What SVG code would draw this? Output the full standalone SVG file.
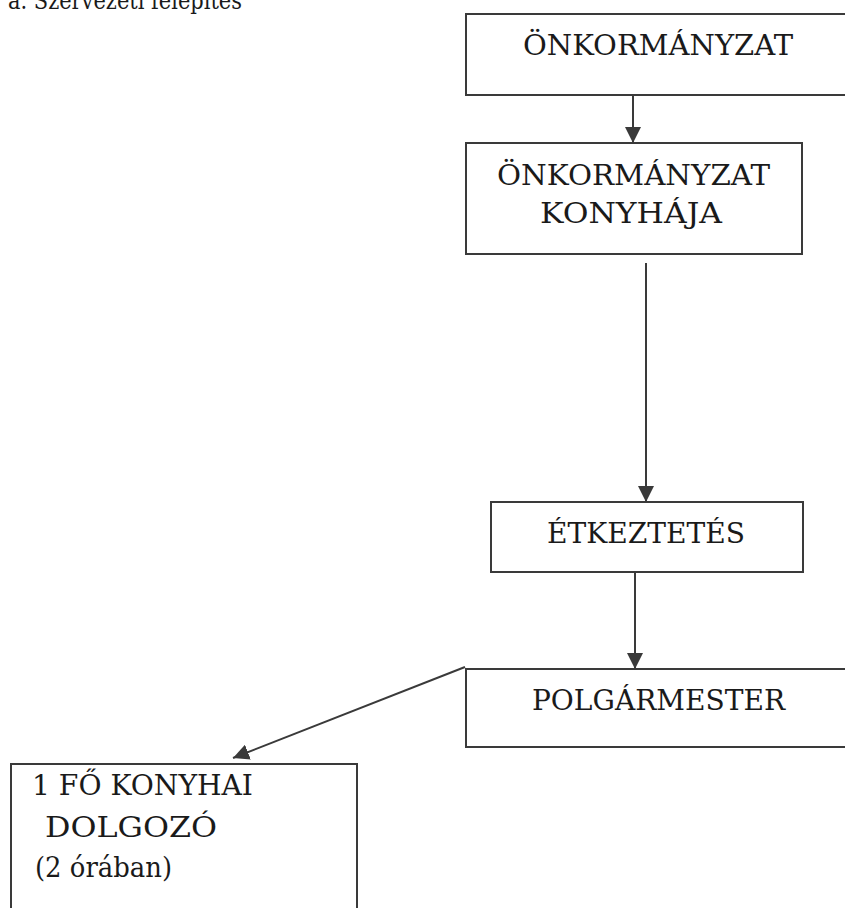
<svg xmlns="http://www.w3.org/2000/svg" width="845" height="908" viewBox="0 0 845 908">
<style>
.box{fill:#fff;stroke:#3a3a3a;stroke-width:2}
.lbl{font-family:'DejaVu Serif',serif;font-size:28px;fill:#1a1a1a}
.ttl{font-family:'DejaVu Serif',serif;font-size:25px;fill:#1a1a1a}
.con{stroke:#3a3a3a;stroke-width:2;fill:none}
</style>
<defs>
<marker id="ah" markerUnits="userSpaceOnUse" markerWidth="18" markerHeight="16" refX="16" refY="8" orient="auto">
<path d="M0,0 L16,8 L0,16 Z" fill="#3a3a3a"/>
</marker>
</defs>
<rect width="845" height="908" fill="#fff"/>
<text class="ttl" x="8" y="9" textLength="234" lengthAdjust="spacingAndGlyphs">a. Szervezeti felépítés</text>
<g id="connectors">
<line class="con" x1="633" y1="95" x2="633" y2="143" marker-end="url(#ah)"/>
<line class="con" x1="646" y1="263" x2="646" y2="502" marker-end="url(#ah)"/>
<line class="con" x1="635" y1="573" x2="635" y2="669" marker-end="url(#ah)"/>
<line class="con" x1="465" y1="667" x2="233" y2="758" marker-end="url(#ah)"/>
</g>
<g id="n1">
<rect class="box" x="466" y="14" width="390" height="81"/>
<text class="lbl" x="523" y="55" textLength="270" lengthAdjust="spacingAndGlyphs">ÖNKORMÁNYZAT</text>
</g>
<g id="n2">
<rect class="box" x="466" y="143" width="336" height="111"/>
<text class="lbl" x="497" y="185" textLength="273" lengthAdjust="spacingAndGlyphs">ÖNKORMÁNYZAT</text>
<text class="lbl" x="540" y="223" textLength="182" lengthAdjust="spacingAndGlyphs">KONYHÁJA</text>
</g>
<g id="n3">
<rect class="box" x="491" y="502" width="312" height="70"/>
<text class="lbl" x="547" y="543" textLength="198" lengthAdjust="spacingAndGlyphs">ÉTKEZTETÉS</text>
</g>
<g id="n4">
<rect class="box" x="466" y="669" width="390" height="78"/>
<text class="lbl" x="532" y="710" textLength="253" lengthAdjust="spacingAndGlyphs">POLGÁRMESTER</text>
</g>
<g id="n5">
<rect class="box" x="11" y="764" width="346" height="160"/>
<text class="lbl" x="32" y="795" textLength="221" lengthAdjust="spacingAndGlyphs">1 FŐ KONYHAI</text>
<text class="lbl" x="45" y="837" textLength="172" lengthAdjust="spacingAndGlyphs">DOLGOZÓ</text>
<text class="lbl" x="35" y="877" textLength="137" lengthAdjust="spacingAndGlyphs">(2 órában)</text>
</g>
</svg>
